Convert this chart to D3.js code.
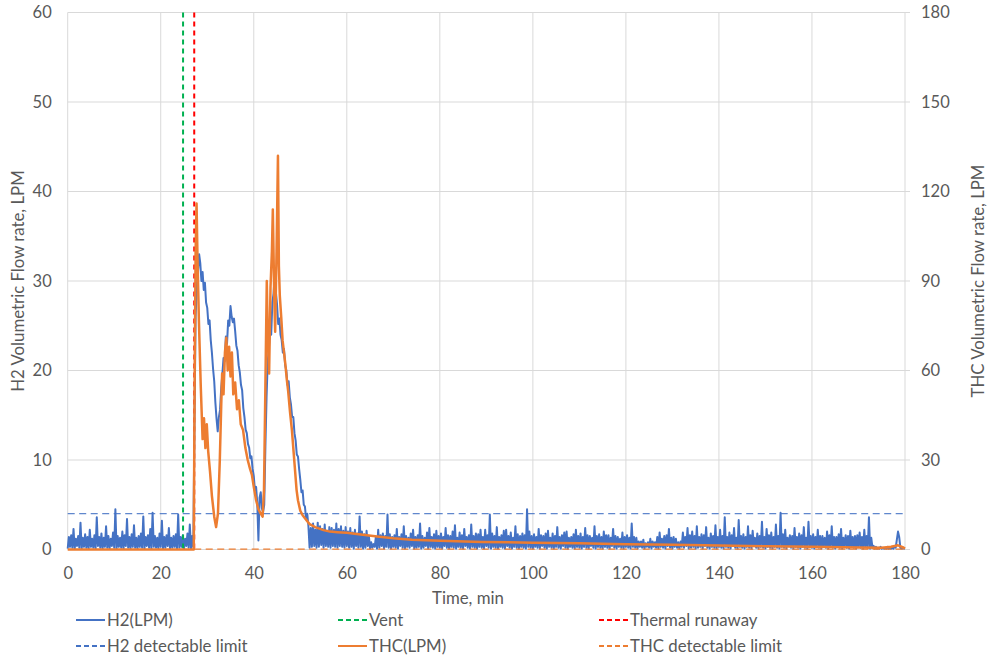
<!DOCTYPE html>
<html>
<head>
<meta charset="utf-8">
<script src="https://cdn.jsdelivr.net/npm/d3@7"></script>
<style>
  html, body { margin: 0; padding: 0; background: #fff; }
  svg text { font-family: Lato, "Liberation Sans", Arial, sans-serif; fill: #595959; }
</style>
</head>
<body>
<svg id="chart" width="989" height="662"></svg>
<script>
// H2 flow (LPM), one reading every 0.25 min from 0 to 180 min (one row = 10 min)
const h2Values = [
  0.1,1.4,0.3,1.6, 0.2,2.3,0.1,1.2, 0.4,1.5,0.2,3.0, 0.1,1.3,0.3,1.7, 0.2,1.4,0.1,2.2,
  0.3,1.2,0.2,1.6, 0.1,3.6,0.4,1.4, 0.2,1.8,0.1,1.3, 0.3,2.6,0.2,1.5, 0.1,1.2,0.4,1.9,
  0.2,4.5,0.1,1.5, 0.3,1.3,0.2,2.0, 0.1,1.6,0.4,3.4, 0.2,1.4,0.1,1.7, 0.3,2.7,0.2,1.3,
  0.1,1.5,0.3,1.8, 0.2,3.7,0.1,1.4, 0.4,1.6,0.2,2.3, 0.1,4.1,0.3,1.5, 0.2,1.3,0.1,1.8,
  0.3,3.2,0.1,1.4, 0.2,1.6,0.4,2.4, 0.1,1.3,0.2,1.5, 0.3,1.7,0.1,3.9, 0.2,1.4,0.3,1.6,
  0.1,1.2,0.4,1.8, 0.2,2.8,0.1,1.5, 0.3,14.0,26.0,29.5, 31.0,33.0,32.0,30.0, 31.0,29.0,29.8,27.6,
  27.0,25.2,25.6,23.4, 22.0,20.2,18.8,16.4, 14.6,13.2,14.8,15.6, 18.0,19.6,21.4,21.0, 23.8,23.0,25.6,25.0,
  27.2,26.0,25.4,25.8, 24.4,22.8,22.2,20.6, 19.8,18.4,17.8,15.8, 14.8,13.4,13.0,11.8, 11.4,10.2,10.4,9.0,
  8.2,6.6,7.0,5.2, 1.0,5.8,6.4,4.6, 4.2,5.0,11.5,17.0, 21.0,22.4,24.6,24.0, 27.6,28.6,30.6,28.8,
  27.4,25.2,25.8,24.0, 23.4,22.0,22.4,20.6, 20.0,18.4,18.8,17.0, 16.2,14.8,14.8,13.0, 12.2,10.6,10.4,9.0,
  7.8,6.4,6.6,5.0, 4.8,3.4,4.0,2.6, 0.2,2.4,0.3,2.9, 0.4,2.2,0.2,3.0, 0.3,2.6,0.5,2.3,
  0.2,2.8,0.4,2.1, 0.3,2.5,0.2,2.4, 0.4,2.2,0.3,2.9, 0.2,2.3,0.4,2.6, 0.3,2.1,0.2,2.5,
  0.4,2.0,0.2,2.4, 0.3,1.9,0.1,2.2, 0.4,1.8,0.2,3.7, 0.3,2.0,0.1,1.7, 0.2,2.1,0.4,1.5,
  0.1,0.8,0.2,0.6, 0.3,1.4,0.1,2.2, 0.2,1.6,0.4,1.8, 0.1,1.5,0.3,3.9, 0.2,1.7,0.1,1.4,
  0.3,1.6,0.2,2.3, 0.1,1.4,0.4,1.7, 0.2,2.6,0.1,1.5, 0.3,1.3,0.2,1.8, 0.4,2.2,0.1,1.4,
  0.2,1.6,0.3,2.9, 0.1,1.5,0.2,1.3, 0.4,1.9,0.1,2.4, 0.3,1.4,0.2,1.7, 0.1,2.1,0.3,1.5,
  0.2,1.8,0.1,1.4, 0.4,2.4,0.2,1.6, 0.1,1.5,0.3,2.0, 0.2,2.7,0.1,1.3, 0.3,1.9,0.2,1.6,
  0.1,2.3,0.4,1.4, 0.2,1.6,0.1,2.8, 0.3,1.5,0.2,1.8, 0.1,1.7,0.3,2.2, 0.2,1.4,0.1,2.2,
  0.4,1.6,0.2,3.9, 0.1,1.8,0.3,1.5, 0.2,2.5,0.1,1.4, 0.3,1.6,0.2,2.1, 0.1,2.2,0.4,1.5,
  0.2,1.9,0.1,1.3, 0.3,2.6,0.2,1.7, 0.1,1.5,0.3,1.8, 0.2,1.6,0.1,4.5, 0.3,2.0,0.2,1.5,
  0.1,1.7,0.3,1.4, 0.2,2.3,0.1,1.6, 0.4,1.5,0.2,1.8, 0.1,2.1,0.3,1.3, 0.2,1.8,0.1,1.5,
  0.3,2.5,0.2,1.4, 0.1,1.6,0.4,1.9, 0.2,2.0,0.1,1.3, 0.3,1.4,0.2,1.7, 0.1,2.2,0.3,1.5,
  0.2,1.8,0.1,1.4, 0.3,2.4,0.2,1.6, 0.1,1.5,0.4,1.3, 0.2,2.6,0.1,1.5, 0.3,1.7,0.2,1.4,
  0.1,2.0,0.3,1.6, 0.2,1.6,0.1,1.3, 0.4,2.3,0.2,1.5, 0.1,1.4,0.3,1.2, 0.2,1.9,0.1,1.4,
  0.3,1.6,0.2,1.3, 0.1,2.9,0.3,1.4, 0.2,1.3,0.1,0.9, 0.3,0.9,0.2,1.1, 0.1,0.7,0.3,0.8,
  0.2,1.2,0.1,0.9, 0.3,0.8,0.2,1.4, 0.1,1.9,0.3,1.2, 0.2,1.5,0.1,1.6, 0.4,2.3,0.2,1.3,
  0.1,1.4,0.3,1.2, 0.2,0.8,0.1,0.9, 0.3,1.9,0.2,1.4, 0.4,2.4,0.1,1.6, 0.2,2.0,0.3,1.5,
  0.1,2.6,0.2,1.4, 0.3,1.7,0.1,1.6, 0.4,2.5,0.2,1.3, 0.1,1.8,0.3,1.5, 0.2,2.7,0.1,1.4,
  0.3,2.2,0.2,1.5, 0.1,3.6,0.3,1.4, 0.2,1.9,0.1,1.6, 0.4,2.4,0.2,1.3, 0.1,3.3,0.3,1.5,
  0.2,1.7,0.1,1.4, 0.3,2.6,0.2,1.6, 0.1,2.1,0.4,1.3, 0.2,1.8,0.1,1.5, 0.3,3.1,0.2,1.4,
  0.1,2.3,0.3,1.6, 0.2,1.9,0.1,1.4, 0.3,2.8,0.2,1.5, 0.1,4.1,0.3,1.7, 0.2,2.2,0.1,1.3,
  0.4,1.6,0.2,1.5, 0.1,2.4,0.3,1.4, 0.2,1.8,0.1,1.6, 0.3,2.5,0.2,1.3, 0.1,3.1,0.3,1.5,
  0.2,1.7,0.1,1.4, 0.3,2.2,0.2,1.5, 0.1,1.5,0.4,1.3, 0.2,2.0,0.1,1.6, 0.3,2.6,0.2,1.4,
  0.1,1.4,0.3,1.7, 0.2,2.3,0.1,1.3, 0.4,1.6,0.2,1.5, 0.1,2.1,0.3,1.4, 0.2,1.5,0.1,1.6,
  0.3,1.9,0.2,1.4, 0.1,2.2,0.3,1.5, 0.2,3.6,0.1,1.3, 0.2,0.4,0.1,0.3, 0.1,0.2,0.1,0.3,
  0.1,0.2,0.1,0.2, 0.1,0.3,0.1,0.2, 0.1,0.2,0.1,0.3, 0.2,1.1,2.0,1.4, 0.2,0.1,0.1,0.1,
  0.1
];
const h2Step = 0.25;

// Total hydrocarbon flow (LPM), secondary axis
const thcTime = [
  0, 27.1, 27.3, 27.5, 27.7, 27.9, 28.2, 28.6, 29.0, 29.3, 29.6, 29.9, 30.2, 30.6, 31.0, 31.5, 31.9, 32.3, 32.7, 33.0,
  33.2, 33.5, 33.8, 34.1, 34.4, 34.7, 35.0, 35.3, 35.6, 36.0, 36.4, 36.8, 37.2, 37.7, 38.2, 38.7, 39.2, 39.6, 40.0, 40.5,
  41.0, 41.5, 41.9, 42.2, 42.5, 42.8, 43.0, 43.3, 43.6, 43.9, 44.1, 44.4, 44.6, 44.9, 45.2, 45.4, 45.6, 45.9, 46.2, 46.5,
  46.8, 47.1, 47.4, 47.8, 48.2, 48.6, 48.9, 49.2, 49.5, 50.0, 50.5, 51.0, 52.0, 53.2, 55, 56.4, 58, 60, 63, 67,
  70, 74, 80, 89, 100, 110, 120, 130, 140, 150, 160, 170, 175, 177, 178.5, 179.5, 180
];
const thcValues = [
  0, 0, 60, 100, 116, 98, 77, 55, 37, 44, 34, 42, 33, 26, 18, 11, 7.5, 12, 30, 48,
  59, 52, 66, 71, 60, 68, 58, 66, 52, 56, 47, 50, 42, 40, 34, 30, 27, 25, 21, 16.5,
  13.5, 12, 11, 20, 55, 90, 72, 59, 88, 100, 114, 85, 73, 100, 132, 95, 85, 78, 70, 66,
  62, 57, 53, 46, 40, 32, 26, 20, 16.5, 13, 11.5, 10.5, 8.5, 7.5, 6.5, 6, 5.8, 5.6, 5.0, 4.3,
  3.8, 3.3, 2.9, 2.5, 2.3, 2.1, 1.8, 1.6, 1.3, 1.1, 0.9, 0.7, 0.6, 0.9, 1.4, 0.8, 0.3
];

// Event markers (min) and detection limits (LPM)
const ventTime = 24.8;
const runawayTime = 27.2;
const h2Limit = 4;
const thcLimit = 0.1;

const xTicks = [0, 20, 40, 60, 80, 100, 120, 140, 160, 180];
const yLeftTicks = [0, 10, 20, 30, 40, 50, 60];
const yRightTicks = [0, 30, 60, 90, 120, 150, 180];

const legendItems = [
  { label: "H2(LPM)", color: "#4472c4", dash: null },
  { label: "Vent", color: "#00b050", dash: "5,3" },
  { label: "Thermal runaway", color: "#ff0000", dash: "5,3" },
  { label: "H2 detectable limit", color: "#4472c4", dash: "5,3" },
  { label: "THC(LPM)", color: "#ed7d31", dash: null },
  { label: "THC detectable limit", color: "#ed7d31", dash: "5,3" }
];

const svg = d3.select("#chart");
const plot = { left: 67.7, right: 905, top: 12.5, bottom: 549.5 };
const tickFont = 16.5, labelFont = 16.8;

const x = d3.scaleLinear().domain([0, 180]).range([plot.left, plot.right]);
const yL = d3.scaleLinear().domain([0, 60]).range([plot.bottom, plot.top]);
const yR = d3.scaleLinear().domain([0, 180]).range([plot.bottom, plot.top]);

// Gridlines (the right-hand ends double as the secondary axis ticks)
const grid = svg.append("g").attr("stroke", "#d9d9d9").attr("stroke-width", 1);
yLeftTicks.forEach(v => grid.append("line")
  .attr("x1", plot.left).attr("x2", plot.right + 5)
  .attr("y1", yL(v)).attr("y2", yL(v)));
xTicks.forEach(v => grid.append("line")
  .attr("x1", x(v)).attr("x2", x(v))
  .attr("y1", plot.top).attr("y2", plot.bottom));

// Axes (labels only; lines come from the grid)
const axisLeft = svg.append("g").attr("transform", `translate(${plot.left},0)`)
  .call(d3.axisLeft(yL).tickValues(yLeftTicks).tickSize(0).tickPadding(16));
const axisRight = svg.append("g").attr("transform", `translate(${plot.right},0)`)
  .call(d3.axisRight(yR).tickValues(yRightTicks).tickSize(0).tickPadding(16));
const axisBottom = svg.append("g").attr("transform", `translate(0,${plot.bottom})`)
  .call(d3.axisBottom(x).tickValues(xTicks).tickSize(0).tickPadding(18));
[axisLeft, axisRight, axisBottom].forEach(g => {
  g.select(".domain").remove();
  g.selectAll("text").attr("font-size", tickFont).attr("fill", "#595959")
    .style("font-family", "Lato, 'Liberation Sans', Arial, sans-serif");
});

// Axis titles
svg.append("text").attr("x", 468).attr("y", 604)
  .attr("text-anchor", "middle").attr("font-size", labelFont).text("Time, min");
svg.append("text")
  .attr("transform", `translate(24,${(plot.top + plot.bottom) / 2}) rotate(-90)`)
  .attr("text-anchor", "middle").attr("font-size", labelFont).text("H2 Volumetric Flow rate, LPM");
svg.append("text")
  .attr("transform", `translate(984,${(plot.top + plot.bottom) / 2}) rotate(-90)`)
  .attr("text-anchor", "middle").attr("font-size", labelFont).text("THC Volumetric Flow rate, LPM");

// H2 series
const h2Line = d3.line().x((d, i) => x(i * h2Step)).y(d => yL(d));
svg.append("path").datum(h2Values)
  .attr("fill", "none").attr("stroke", "#4472c4").attr("stroke-width", 2)
  .attr("stroke-linejoin", "round").attr("d", h2Line);

// Vent and thermal runaway markers
[[ventTime, "#00b050"], [runawayTime, "#ff0000"]].forEach(([t, c]) => {
  svg.append("line").attr("x1", x(t)).attr("x2", x(t))
    .attr("y1", plot.top).attr("y2", plot.bottom)
    .attr("stroke", c).attr("stroke-width", 2).attr("stroke-dasharray", "5,4");
});

// H2 detectable limit
svg.append("line").attr("x1", x(0)).attr("x2", x(180))
  .attr("y1", yL(h2Limit)).attr("y2", yL(h2Limit))
  .attr("stroke", "#4472c4").attr("stroke-opacity", 0.85).attr("stroke-width", 1.3)
  .attr("stroke-dasharray", "7,4.5");

// THC series
const thcLine = d3.line().x((d, i) => x(thcTime[i])).y(d => yR(d));
svg.append("path").datum(thcValues)
  .attr("fill", "none").attr("stroke", "#ed7d31").attr("stroke-width", 2.5)
  .attr("stroke-linejoin", "round").attr("d", thcLine);

// THC detectable limit
svg.append("line").attr("x1", x(runawayTime)).attr("x2", x(180))
  .attr("y1", yR(thcLimit)).attr("y2", yR(thcLimit))
  .attr("stroke", "#ed7d31").attr("stroke-width", 1.3).attr("stroke-dasharray", "7,4.5");

// Legend: three columns, two rows
const colX = [76, 338, 599];
const rowY = [620, 646];
legendItems.forEach((item, i) => {
  const cx = colX[i % 3], cy = rowY[Math.floor(i / 3)];
  const g = svg.append("g");
  g.append("line").attr("x1", cx).attr("x2", cx + 29).attr("y1", cy).attr("y2", cy)
    .attr("stroke", item.color).attr("stroke-width", 2)
    .attr("stroke-dasharray", item.dash);
  g.append("text").attr("x", cx + 31).attr("y", cy).attr("dy", "0.35em")
    .attr("font-size", labelFont).text(item.label);
});
</script>
</body>
</html>
